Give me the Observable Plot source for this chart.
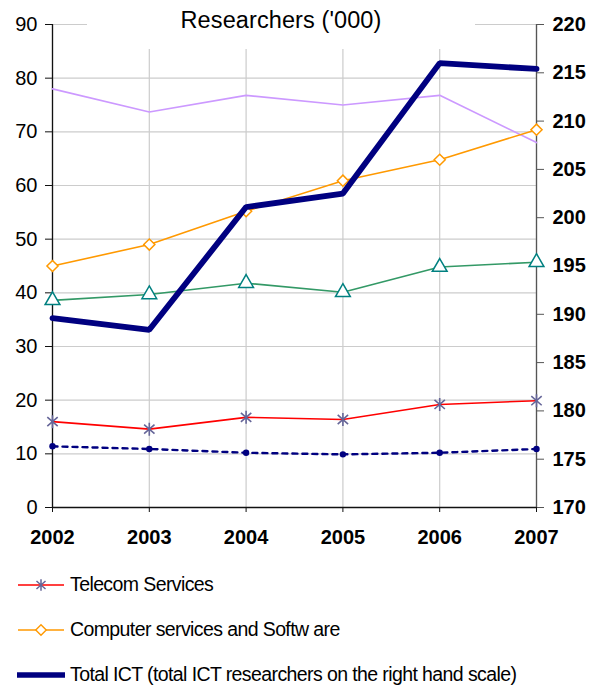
<!DOCTYPE html>
<html>
<head>
<meta charset="utf-8">
<script src="https://cdn.jsdelivr.net/npm/d3@7"></script>
<script src="https://cdn.jsdelivr.net/npm/@observablehq/plot@0.6"></script>
<style>
  html, body { margin: 0; padding: 0; background: #fff; }
  body { width: 592px; height: 686px; overflow: hidden; font-family: "Liberation Sans", Arial, sans-serif; }
  #wrap { position: relative; width: 592px; }
  #title { position: absolute; left: 87px; top: 0; width: 388px; height: 49px; background: #fff;
           text-align: center; font-size: 23.5px; line-height: 40px; color: #000; box-sizing: border-box; }
  #title span { position: relative; left: 0px; letter-spacing: 0.1px; }
  #legend { padding-top: 2px; }
  .legend-row { height: 45px; display: flex; align-items: center; font-size: 19.5px; letter-spacing: -0.6px; color: #000; }
  .legend-row svg { margin-left: 17px; margin-right: 5px; flex: none; }
</style>
</head>
<body>
<div id="wrap">
  <div id="chart"></div>
  <div id="title"><span>Researchers ('000)</span></div>
</div>
<div id="legend"></div>
<script>
// ---- data ----
const years = [2002, 2003, 2004, 2005, 2006, 2007];
const telecomServices = [16.0, 14.6, 16.8, 16.4, 19.2, 19.9];
const computerSoftware = [45.0, 49.0, 55.2, 60.9, 64.8, 70.4];
const violetSeries = [78.0, 73.7, 76.8, 75.0, 76.8, 68.0];
const greenSeries = [38.6, 39.7, 41.8, 40.1, 44.8, 45.7];
const dottedSeries = [11.4, 10.9, 10.2, 9.9, 10.2, 10.9];
const totalICT = [189.6, 188.4, 201.1, 202.5, 216.0, 215.4];
const leftTicks = [0, 10, 20, 30, 40, 50, 60, 70, 80, 90];
const rightTicks = [170, 175, 180, 185, 190, 195, 200, 205, 210, 215, 220];
const legendLabels = ["Telecom Services", "Computer services and Softw are", "Total ICT (total ICT researchers on the right hand scale)"];

// right scale [170,220] mapped onto left scale [0,90]
const rLo = rightTicks[0], rHi = rightTicks[rightTicks.length - 1];
const lLo = leftTicks[0], lHi = leftTicks[leftTicks.length - 1];
const toLeft = v => lLo + (v - rLo) * (lHi - lLo) / (rHi - rLo);
const toRight = v => rLo + (v - lLo) * (rHi - rLo) / (lHi - lLo);

const rows = arr => years.map((year, i) => ({year, value: arr[i]}));
const telecomRows = rows(telecomServices);
const computerRows = rows(computerSoftware);
const violetRows = rows(violetSeries);
const greenRows = rows(greenSeries);
const dottedRows = rows(dottedSeries);
const totalRows = years.map((year, i) => ({year, value: toLeft(totalICT[i])}));

// Excel-like six-armed star marker
const star6 = {
  draw(ctx, size) {
    const r = Math.sqrt(size / Math.PI);
    ctx.moveTo(0, -r); ctx.lineTo(0, r);
    ctx.moveTo(-r * 0.8, -r * 0.7); ctx.lineTo(r * 0.8, r * 0.7);
    ctx.moveTo(-r * 0.8, r * 0.7); ctx.lineTo(r * 0.8, -r * 0.7);
  }
};

const chart = Plot.plot({
  width: 592,
  height: 560,
  marginTop: 24,
  marginBottom: 53,
  marginLeft: 52,
  marginRight: 56,
  style: {fontFamily: "'Liberation Sans', Arial, sans-serif", background: "#fff", overflow: "visible"},
  x: {domain: [years[0], years[years.length - 1]]},
  y: {domain: [lLo, lHi]},
  marks: [
    Plot.gridY(leftTicks, {stroke: "#cccccc", strokeOpacity: 1, strokeWidth: 1.2}),
    Plot.gridX(years, {stroke: "#cccccc", strokeOpacity: 1, strokeWidth: 1.2}),
    Plot.ruleX([years[0]], {stroke: "#111", strokeWidth: 1.3}),
    Plot.ruleX([years[years.length - 1]], {stroke: "#555", strokeWidth: 1.3}),
    Plot.ruleY([lLo], {stroke: "#111", strokeWidth: 1.3}),
    Plot.axisY(leftTicks, {anchor: "left", tickSize: 7, tickPadding: 8, fontSize: 20, label: null, stroke: "#111", tickFormat: d => String(d)}),
    Plot.axisY(rightTicks.map(toLeft), {anchor: "right", tickSize: 7, tickPadding: 9, fontSize: 20, fontWeight: "bold", label: null, stroke: "#555",
      tickFormat: d => String(Math.round(toRight(d)))}),
    Plot.axisX(years, {anchor: "bottom", tickSize: 5, tickPadding: 17, fontSize: 20, fontWeight: "bold", label: null, stroke: "#111", tickFormat: d => String(d)}),

    Plot.line(violetRows, {x: "year", y: "value", stroke: "#cc99ff", strokeWidth: 1.6}),
    Plot.line(computerRows, {x: "year", y: "value", stroke: "#ff9900", strokeWidth: 1.6}),
    Plot.dot(computerRows, {x: "year", y: "value", symbol: "diamond2", r: 5, stroke: "#ff9900", strokeWidth: 1.5, fill: "white"}),
    Plot.line(greenRows, {x: "year", y: "value", stroke: "#339966", strokeWidth: 1.6}),
    Plot.dot(greenRows, {x: "year", y: "value", symbol: "triangle", r: 5.5, stroke: "#008080", strokeWidth: 1.5, fill: "white"}),
    Plot.line(telecomRows, {x: "year", y: "value", stroke: "#ff0000", strokeWidth: 1.6}),
    Plot.dot(telecomRows, {x: "year", y: "value", symbol: star6, r: 6.5, stroke: "#666699", strokeWidth: 1.6, fill: "none"}),
    Plot.line(dottedRows, {x: "year", y: "value", stroke: "#000080", strokeWidth: 2.4, strokeDasharray: "5,5"}),
    Plot.dot(dottedRows, {x: "year", y: "value", r: 3.2, fill: "#000080", stroke: "none"}),
    Plot.line(totalRows, {x: "year", y: "value", stroke: "#000080", strokeWidth: 5.8, strokeLinejoin: "miter"})
  ]
});
document.getElementById("chart").appendChild(chart);

// ---- legend ----
const legend = d3.select("#legend");
const legendStyles = [
  {stroke: "#ff0000", width: 1.6, marker: "star", markerColor: "#666699"},
  {stroke: "#ff9900", width: 1.6, marker: "diamond", markerColor: "#ff9900"},
  {stroke: "#000080", width: 5.5, marker: null}
];
legendLabels.forEach((label, i) => {
  const s = legendStyles[i];
  const row = legend.append("div").attr("class", "legend-row");
  const svg = row.append("svg").attr("width", 48).attr("height", 20);
  svg.append("line").attr("x1", 1).attr("x2", 47).attr("y1", 10).attr("y2", 10)
    .attr("stroke", s.stroke).attr("stroke-width", s.width).attr("stroke-linecap", s.marker ? "butt" : "round");
  if (s.marker === "star") {
    svg.append("path").attr("transform", "translate(24,10)")
      .attr("d", d3.symbol(star6, 100)()).attr("stroke", s.markerColor).attr("stroke-width", 1.5).attr("fill", "none");
  } else if (s.marker === "diamond") {
    svg.append("path").attr("transform", "translate(24,10)")
      .attr("d", d3.symbol(d3.symbolDiamond2, 70)()).attr("stroke", s.markerColor).attr("stroke-width", 1.4).attr("fill", "white");
  }
  row.append("span").text(label);
});
</script>
</body>
</html>
